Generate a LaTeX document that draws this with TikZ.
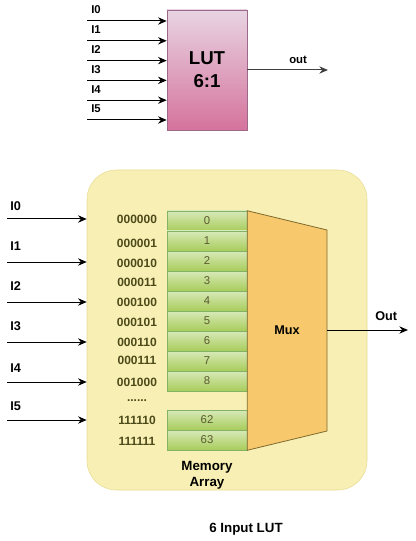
\documentclass[tikz,border=0pt]{standalone}
\usepackage{fontspec}
\setmainfont{Liberation Sans}
\usetikzlibrary{positioning,arrows.meta}

\definecolor{lutTop}{HTML}{E8D4E2}
\definecolor{lutBot}{HTML}{D5739D}
\definecolor{lutDraw}{HTML}{9C6A88}
\definecolor{memFill}{HTML}{F7EFB3}
\definecolor{memDraw}{HTML}{E8DC95}
\definecolor{cellTop}{HTML}{D7E9B8}
\definecolor{cellBot}{HTML}{A8CC5A}
\definecolor{cellDraw}{HTML}{82B366}
\definecolor{cellText}{HTML}{5A5A30}
\definecolor{muxFill}{HTML}{F7C96C}
\definecolor{muxDraw}{HTML}{7E6A2E}
\definecolor{addrText}{HTML}{4D4A1A}

\tikzset{
  arr/.style={-{Stealth[length=6.5pt,width=5.5pt]}, line width=0.75pt},
  pin/.style={font=\bfseries\fontsize{8.5}{10}\selectfont, anchor=west, inner sep=0.75pt},
  bigpin/.style={font=\bfseries\fontsize{9.5}{11}\selectfont, anchor=west, inner sep=0.75pt},
  addr/.style={font=\bfseries\fontsize{9}{10}\selectfont, text=addrText, inner sep=0.75pt},
  cell/.style={draw=cellDraw, top color=cellTop, bottom color=cellBot, minimum width=60pt,
    minimum height=15pt, inner sep=0pt, font=\fontsize{8.5}{10}\selectfont, text=cellText},
  caption/.style={font=\bfseries\fontsize{10}{12}\selectfont, align=center, inner sep=0.75pt}
}

\begin{document}
\begin{tikzpicture}[x=0.75pt,y=0.75pt,yscale=-1,xscale=1]
\useasboundingbox (0,0) rectangle (416,541);

% LUT block
\node [draw=lutDraw, top color=lutTop, bottom color=lutBot, minimum width=60pt, minimum height=90pt,
  inner sep=0pt, align=center, font=\bfseries\fontsize{14}{17}\selectfont] (lut) at (207,70) {LUT\\6:1};

% LUT inputs
\foreach \i in {0,...,5} {
  \coordinate (a\i) at (87,{21+19.8*\i});
  \draw [arr] (a\i) -- (a\i -| lut.west);
  \draw ({90},{10+19.8*\i}) node [pin] {I\i};
}
% LUT output
\coordinate (lutout) at (328,70);
\draw [arr, draw=black!75] (lut.east |- lutout) -- (lutout);
\draw (288,60) node [pin] {out};

% Memory box
\node [draw=memDraw, fill=memFill, rounded corners=22pt, minimum width=210pt, minimum height=240pt,
  inner sep=0pt] (mem) at (227,330) {};

% Cells
\foreach \i in {0,...,8} {
  \node [cell] (c\i) at (207,{221+20*\i}) {\i};
}
\node [cell] (c62) at (207,420) {62};
\node [cell] (c63) at (207,440) {63};

% Addresses
\foreach \bits/\y in {000000/219, 000001/243, 000010/263, 000011/282, 000100/302,
  000101/322, 000110/342, 000111/360, 001000/382, 111110/420, 111111/441} {
  \draw (137,\y) node [addr] {\bits};
}
\draw (137,401) node [addr] {......};

% Mux
\coordinate (m1) at (c0.north east);
\coordinate (m2) at (327,230);
\coordinate (m3) at (327,431);
\coordinate (m4) at (c63.south east);
\draw [draw=muxDraw, fill=muxFill, line width=0.6pt] (m1) -- (m2) -- (m3) -- (m4) -- cycle;
\node [font=\bfseries\fontsize{9.5}{11}\selectfont, inner sep=0.75pt] (mux) at (287,330) {Mux};

% Memory inputs
\foreach \i/\y/\ly in {0/219/206, 1/262/246, 2/302/286, 3/342/326, 4/382/368, 5/420/406} {
  \coordinate (in\i) at (7,\y);
  \draw [arr] (in\i) -- (in\i -| mem.west);
  \draw (9,\ly) node [bigpin] {I\i};
}

% Mux output
\coordinate (muxout) at (327,330);
\coordinate (out) at (408,330);
\draw [arr] (muxout) -- (out);
\draw (374,316) node [bigpin] {Out};

% Captions
\draw (207,475) node [caption] {Memory\\Array};
\draw (246,529) node [caption] {6 Input LUT};

\end{tikzpicture}
\end{document}
